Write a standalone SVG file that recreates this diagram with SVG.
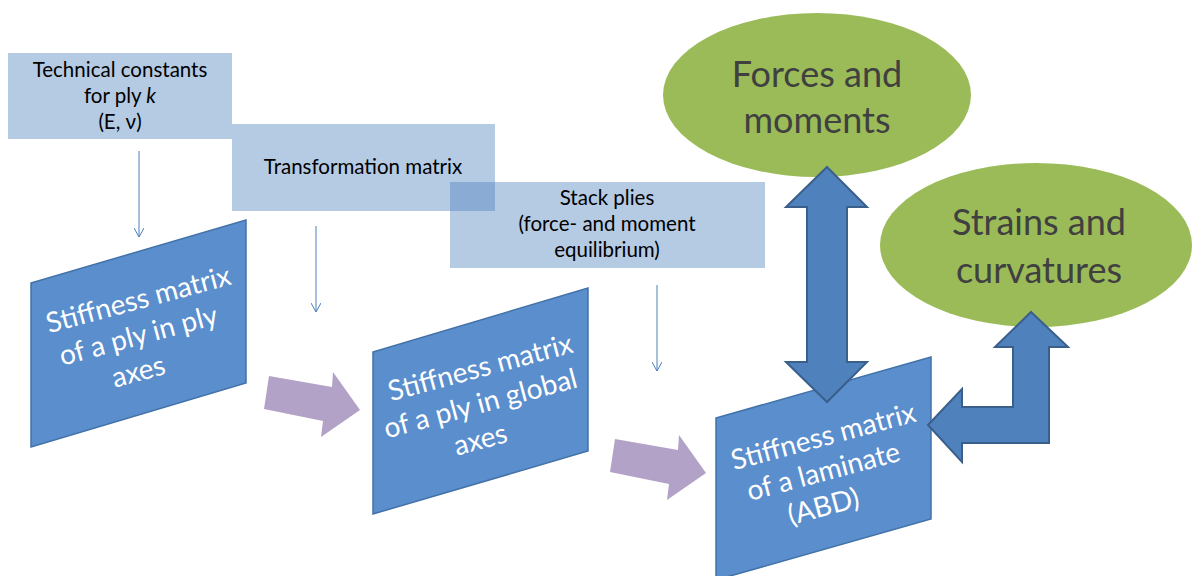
<svg xmlns="http://www.w3.org/2000/svg" width="1192" height="576" viewBox="0 0 1192 576">
<style>
.box{fill:#4F81BD;fill-opacity:0.42}
.lbl{font-family:Lato,"Liberation Sans",sans-serif;font-size:20.5px;fill:#000;text-anchor:middle}
.para{fill:#5B8ECC;stroke:#4272A8;stroke-width:1.5}
.ptxt{font-family:Lato,"Liberation Sans",sans-serif;font-size:28px;fill:#fff;text-anchor:middle}
.ell{fill:#9BBB59}
.etxt{font-family:Lato,"Liberation Sans",sans-serif;font-size:36px;fill:#404040;text-anchor:middle}
.thin{stroke:#4A7EBB;stroke-width:1;fill:none}
.purple{fill:#B3A2C7}
.blue{fill:#4F81BD;stroke:#3A5F8B;stroke-width:2;stroke-linejoin:miter}
</style>
<defs>
<marker id="v" markerUnits="userSpaceOnUse" markerWidth="12" markerHeight="10" refX="10" refY="5" viewBox="0 0 12 10" orient="auto">
<path d="M1,0 L10,5 L1,10" fill="none" stroke="#4A7EBB" stroke-width="1"/>
</marker>
</defs>

<g id="node-technical-constants">
<rect class="box" x="8" y="53" width="224" height="86"/>
<text class="lbl" x="120" y="77">Technical constants</text>
<text class="lbl" x="120" y="103">for ply <tspan font-style="italic">k</tspan></text>
<text class="lbl" x="120" y="129">(E, ν)</text>
</g>

<g id="node-transformation-matrix">
<rect class="box" x="232" y="124" width="263" height="87"/>
<text class="lbl" x="363" y="174">Transformation matrix</text>
</g>

<g id="node-stack-plies">
<rect class="box" x="450" y="182" width="315" height="86"/>
<text class="lbl" x="607" y="205">Stack plies</text>
<text class="lbl" x="607" y="231">(force- and moment</text>
<text class="lbl" x="607" y="257">equilibrium)</text>
</g>

<g id="node-stiffness-ply">
<polygon class="para" points="31,283 246,220 246,383 31,447"/>
<text class="ptxt" transform="translate(138.5,300) rotate(-15)" y="9">Stiffness matrix</text>
<text class="ptxt" transform="translate(138.5,336) rotate(-15)" y="9">of a ply in ply</text>
<text class="ptxt" transform="translate(138.5,372) rotate(-15)" y="9">axes</text>
</g>

<g id="node-stiffness-global">
<polygon class="para" points="373,352 588,288 588,451 373,514"/>
<text class="ptxt" transform="translate(480.5,368) rotate(-15)" y="9">Stiffness matrix</text>
<text class="ptxt" transform="translate(480.5,404) rotate(-15)" y="9">of a ply in global</text>
<text class="ptxt" transform="translate(480.5,440) rotate(-15)" y="9">axes</text>
</g>

<g id="node-stiffness-laminate">
<polygon class="para" points="716,418 931,357 931,519 716,580"/>
<text class="ptxt" transform="translate(823.5,437) rotate(-15)" y="9">Stiffness matrix</text>
<text class="ptxt" transform="translate(823.5,472) rotate(-15)" y="9">of a laminate</text>
<text class="ptxt" transform="translate(823.5,507) rotate(-15)" y="9">(ABD)</text>
</g>

<g id="node-forces-moments">
<ellipse class="ell" cx="817" cy="95" rx="154" ry="82"/>
<text class="etxt" x="817" y="87">Forces and</text>
<text class="etxt" x="817" y="133">moments</text>
</g>

<g id="node-strains-curvatures">
<ellipse class="ell" cx="1036" cy="245" rx="156" ry="82"/>
<text class="etxt" x="1039" y="235">Strains and</text>
<text class="etxt" x="1039" y="283">curvatures</text>
</g>

<g id="connectors">
<line class="thin" x1="139" y1="151" x2="139" y2="237" marker-end="url(#v)"/>
<line class="thin" x1="316" y1="226" x2="316" y2="312" marker-end="url(#v)"/>
<line class="thin" x1="657" y1="285" x2="657" y2="371" marker-end="url(#v)"/>
<polygon id="purple-1" class="purple" points="269,376 332,387 333,372 360,410 321,437 323,421 264,409"/>
<polygon id="purple-2" class="purple" points="269,376 332,387 333,372 360,410 321,437 323,421 264,409" transform="translate(346,63)"/>
<polygon id="double-arrow" class="blue" points="827,167 867,207 847,207 847,362 867,362 827,402 786,362 807,362 807,207 786,207"/>
<polygon id="bent-arrow" class="blue" points="928,425 962,389 962,407 1013,407 1013,347 995,347 1031,312 1068,347 1049,347 1049,443 962,443 962,462"/>
</g>
</svg>
